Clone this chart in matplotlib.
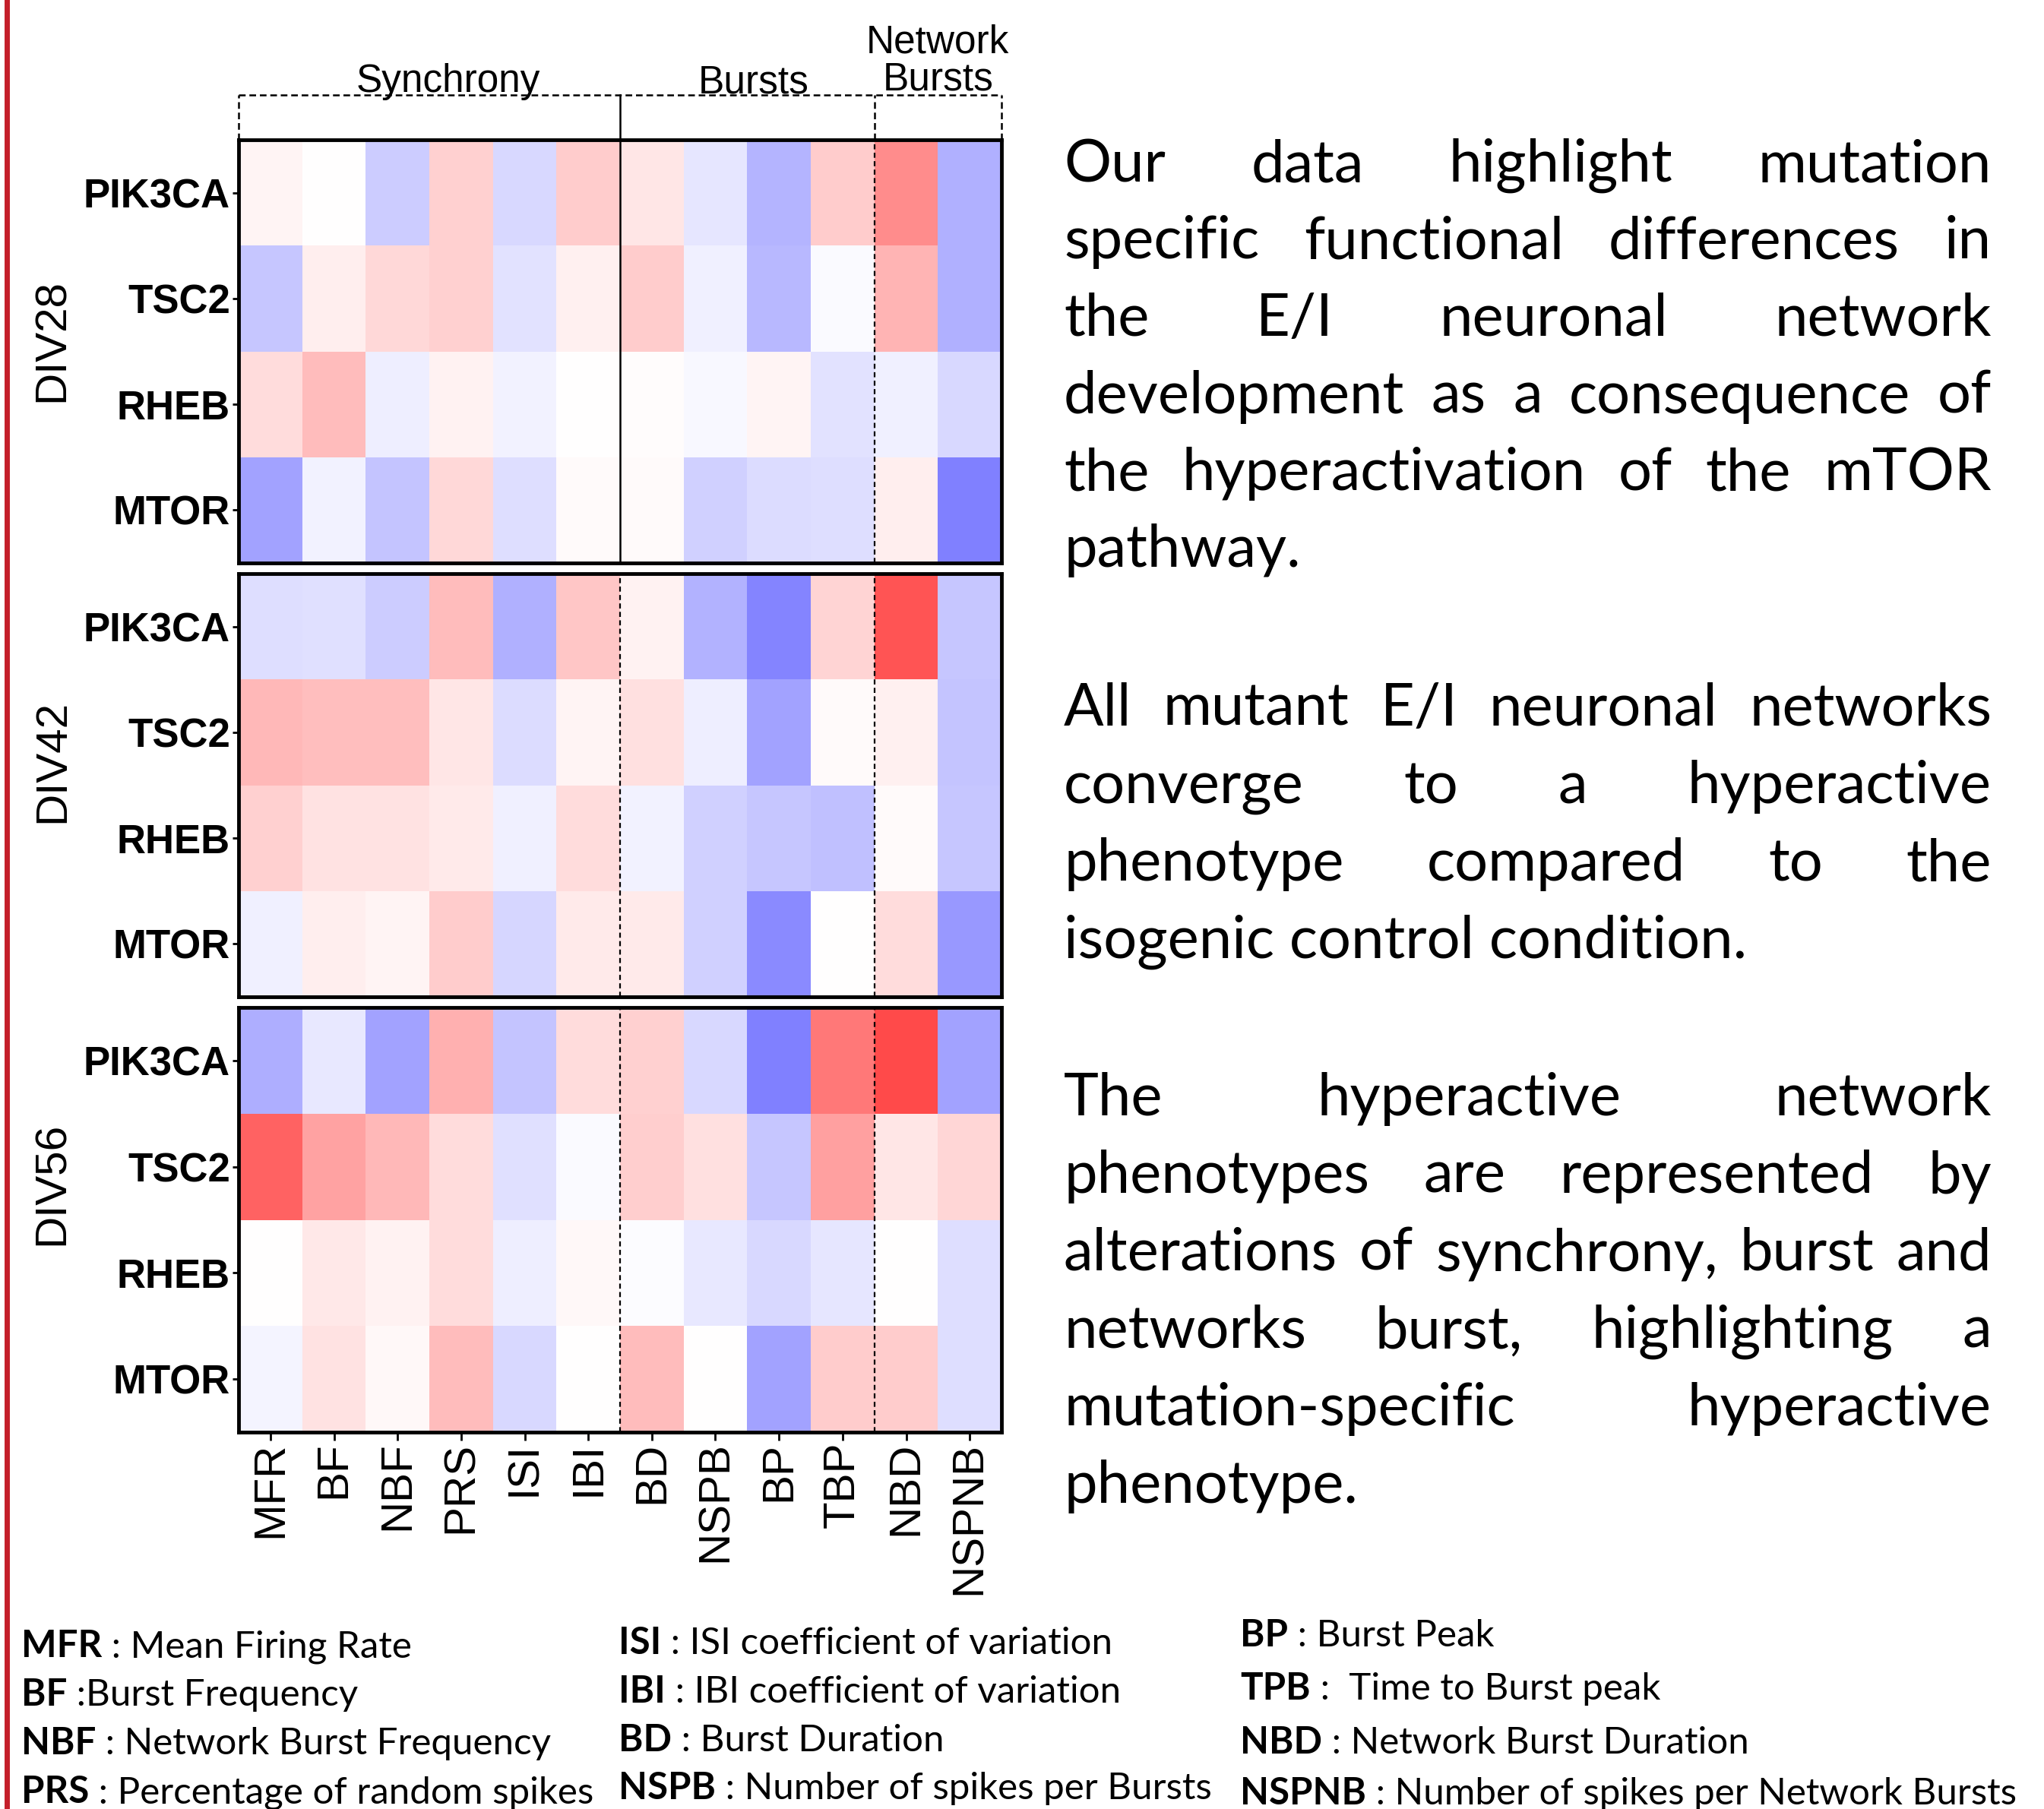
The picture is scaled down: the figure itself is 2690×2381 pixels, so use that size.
import matplotlib
matplotlib.use("Agg")
import numpy as np
import matplotlib.pyplot as plt
from matplotlib.lines import Line2D

W, H, DPI = 2690, 2381, 100

COLUMNS = ["MFR", "BF", "NBF", "PRS", "ISI", "IBI", "BD", "NSPB", "BP", "TBP", "NBD", "NSPNB"]
GENES = ["PIK3CA", "TSC2", "RHEB", "MTOR"]
DIVS = ["DIV28", "DIV42", "DIV56"]
GROUPS = ["Synchrony", "Bursts", "Network Bursts"]

# colour scores, -1 (blue) .. 1 (red)
DIV28 = [
    [0.04, 0.00, -0.20, 0.18, -0.15, 0.20, 0.10, -0.10, -0.29, 0.20, 0.45, -0.31],
    [-0.22, 0.07, 0.15, 0.18, -0.11, 0.06, 0.20, -0.06, -0.28, -0.02, 0.29, -0.31],
    [0.14, 0.26, -0.07, 0.05, -0.05, 0.00, 0.01, -0.03, 0.04, -0.11, -0.06, -0.15],
    [-0.36, -0.05, -0.23, 0.15, -0.13, 0.02, 0.02, -0.18, -0.14, -0.13, 0.07, -0.50],
]
DIV42 = [
    [-0.13, -0.12, -0.20, 0.26, -0.31, 0.22, 0.05, -0.30, -0.48, 0.17, 0.67, -0.22],
    [0.28, 0.25, 0.25, 0.10, -0.14, 0.04, 0.12, -0.07, -0.36, 0.02, 0.06, -0.23],
    [0.18, 0.11, 0.11, 0.08, -0.06, 0.14, -0.05, -0.18, -0.22, -0.25, 0.02, -0.22],
    [-0.06, 0.07, 0.04, 0.20, -0.16, 0.08, 0.08, -0.18, -0.46, 0.00, 0.14, -0.40],
]
DIV56 = [
    [-0.32, -0.09, -0.36, 0.31, -0.23, 0.14, 0.18, -0.15, -0.50, 0.53, 0.71, -0.36],
    [0.61, 0.36, 0.28, 0.14, -0.12, -0.02, 0.19, 0.12, -0.22, 0.37, 0.10, 0.16],
    [0.00, 0.09, 0.05, 0.14, -0.07, 0.03, -0.01, -0.09, -0.15, -0.10, 0.00, -0.13],
    [-0.04, 0.11, 0.03, 0.26, -0.15, 0.00, 0.26, 0.00, -0.36, 0.20, 0.20, -0.13],
]

PARAGRAPH_1 = [
    "Our data highlight mutation",
    "specific functional differences in",
    "the E/I neuronal network",
    "development as a consequence of",
    "the hyperactivation of the mTOR",
    "pathway.",
]
PARAGRAPH_2 = [
    "All mutant E/I neuronal networks",
    "converge to a hyperactive",
    "phenotype compared to the",
    "isogenic control condition.",
]
PARAGRAPH_3 = [
    "The hyperactive network",
    "phenotypes are represented by",
    "alterations of synchrony, burst and",
    "networks burst, highlighting a",
    "mutation-specific hyperactive",
    "phenotype.",
]

LEGEND_ABBR = ["MFR", "BF", "NBF", "PRS",
               "ISI", "IBI", "BD", "NSPB",
               "BP", "TPB", "NBD", "NSPNB"]
LEGEND_DESC = [" : Mean Firing Rate", " :Burst Frequency", " : Network Burst Frequency",
               " : Percentage of random spikes",
               " : ISI coefficient of variation", " : IBI coefficient of variation",
               " : Burst Duration", " : Number of spikes per Bursts",
               " : Burst Peak", " :  Time to Burst peak", " : Network Burst Duration",
               " : Number of spikes per Network Bursts"]

ARIAL = ["Liberation Sans", "DejaVu Sans"]
BODY = ["Lato", "DejaVu Sans"]


def fx(px):
    return px / W


def fy(px):
    return 1 - px / H


def draw_panel(fig, rect, values, first, last):
    ax = fig.add_axes(rect)
    ax.pcolormesh(np.arange(13), np.arange(5), np.array(values),
                  cmap="bwr", vmin=-1, vmax=1)
    ax.set_xlim(0, 12)
    ax.set_ylim(4, 0)
    for s in ax.spines.values():
        s.set_linewidth(3.5)
    ax.set_yticks(np.arange(4) + 0.5)
    ax.set_yticklabels(GENES, family=ARIAL, fontweight="bold", fontsize=38)
    ax.tick_params(axis="y", length=6, width=2, pad=2)
    if last:
        ax.set_xticks(np.arange(12) + 0.5)
        ax.set_xticklabels(COLUMNS, family=ARIAL, fontsize=42, rotation=90)
        ax.tick_params(axis="x", length=8, width=2, pad=1)
    else:
        ax.set_xticks([])

    # group separators
    if first:
        ax.axvline(6, color="black", lw=1.8)
    else:
        ax.axvline(6, color="black", lw=1.6, ls=(0, (3, 2)))
    ax.axvline(10, color="black", lw=1.6, ls=(0, (3, 2)))

    if first:
        tr = ax.get_xaxis_transform()
        top = 1.106
        dash = dict(color="black", lw=1.8, ls=(0, (3.5, 2)), transform=tr, clip_on=False)
        ax.plot([0, 12], [top, top], **dash)
        ax.plot([0, 0], [1, top], **dash)
        ax.plot([12, 12], [1, top], **dash)
        ax.plot([10, 10], [1, top], **dash)
        ax.plot([6, 6], [1, top], color="black", lw=1.8, transform=tr, clip_on=False)
        lab = dict(family=ARIAL, fontsize=37, ha="center", va="baseline",
                   transform=tr)
        ax.text(3.3, 1.113, GROUPS[0], **lab)
        ax.text(8.1, 1.111, GROUPS[1], **lab)
        net, bur = GROUPS[2].split()
        ax.text(11.0, 1.205, net, **lab)
        ax.text(11.0, 1.118, bur, **lab)
    return ax


def draw_paragraph(fig, renderer, lines, first_baseline, step):
    left, right = 1400, 2621
    style = dict(family=BODY, fontsize=56, ha="left", va="baseline")
    for i, line in enumerate(lines):
        y = fy(first_baseline + i * step)
        words = line.split()
        if i == len(lines) - 1 or len(words) == 1:
            fig.text(fx(left), y, line, **style)
            continue
        texts = [fig.text(0, y, w, **style) for w in words]
        widths = [t.get_window_extent(renderer).width for t in texts]
        gap = (right - left - sum(widths)) / (len(words) - 1)
        x = left
        for t, w in zip(texts, widths):
            t.set_x(fx(x))
            x += w + gap


def draw_legend(fig, renderer):
    col_x = [28, 814, 1632]
    baselines = [[2181, 2245, 2309, 2373],
                 [2177, 2241, 2305, 2368],
                 [2167, 2237, 2308, 2375]]
    for k, (abbr, desc) in enumerate(zip(LEGEND_ABBR, LEGEND_DESC)):
        c, r = divmod(k, 4)
        y = fy(baselines[c][r])
        b = fig.text(fx(col_x[c]), y, abbr, family=BODY, fontsize=35.5,
                     fontweight="bold", ha="left", va="baseline")
        w = b.get_window_extent(renderer).width
        fig.text(fx(col_x[c] + w), y, desc, family=BODY, fontsize=35.5,
                 ha="left", va="baseline")


def build_plot():
    fig = plt.figure(figsize=(W / DPI, H / DPI), dpi=DPI)
    renderer = fig.canvas.get_renderer()

    left, width = fx(314), (1318 - 314) / W
    panels = [(184, 741), (755, 1312), (1326, 1885)]
    div_centers = [448, 1002, 1558]
    for i, vals in enumerate([DIV28, DIV42, DIV56]):
        top, bottom = panels[i]
        rect = [left, fy(bottom), width, (bottom - top) / H]
        draw_panel(fig, rect, vals, i == 0, i == 2)
        fig.text(fx(69), fy(div_centers[i]), DIVS[i], family=ARIAL, fontsize=42,
                 rotation=90, ha="center", va="center")

    draw_paragraph(fig, renderer, PARAGRAPH_1, 239, 101.5)
    draw_paragraph(fig, renderer, PARAGRAPH_2, 955, 102)
    draw_paragraph(fig, renderer, PARAGRAPH_3, 1468, 102)
    draw_legend(fig, renderer)

    # red frame line on the left edge of the slide
    fig.add_artist(Line2D([fx(9), fx(9)], [0, 1], color="#c41e2a", lw=5))

    fig.savefig("out.png", dpi=DPI)
    plt.close(fig)


if __name__ == "__main__":
    build_plot()
